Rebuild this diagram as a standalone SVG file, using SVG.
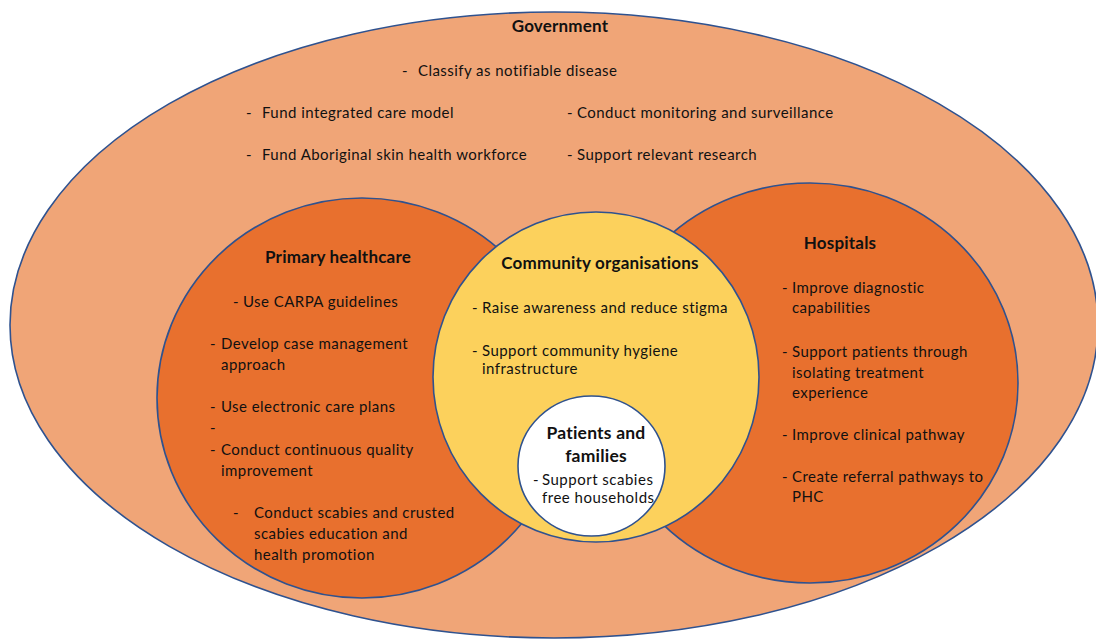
<svg xmlns="http://www.w3.org/2000/svg" width="1096" height="641" viewBox="0 0 1096 641">
<style>
.shape{stroke:#2F528F;stroke-width:1.6}
.gov{fill:#F0A577}
.orange{fill:#E8702E}
.yellow{fill:#FCD15C}
.white{fill:#FFFFFF}
text{font-family:Lato,"Liberation Sans",sans-serif;font-size:15px;letter-spacing:0.45px;fill:#111}
.t{font-weight:bold;font-size:17px;letter-spacing:0.2px;text-anchor:middle}
.pt{font-weight:bold;font-size:17.5px;letter-spacing:0.2px;text-anchor:middle}
.s{font-size:15px;letter-spacing:0.5px}
</style>
<rect width="1096" height="641" fill="#FFFFFF"/>
<g id="government">
<ellipse class="shape gov" cx="554" cy="325" rx="544" ry="313"/>
<text class="t" x="560" y="32">Government</text>
<text x="402" y="76">-</text><text x="418" y="76">Classify as notifiable disease</text>
<text x="246" y="118">-</text><text x="262" y="118">Fund integrated care model</text>
<text x="246" y="160">-</text><text x="262" y="160">Fund Aboriginal skin health workforce</text>
<text x="567" y="118">-</text><text x="577" y="118">Conduct monitoring and surveillance</text>
<text x="567" y="160">-</text><text x="577" y="160">Support relevant research</text>
</g>
<g id="primary-healthcare">
<ellipse class="shape orange" cx="362" cy="398" rx="205" ry="200"/>
<text class="t" x="338" y="263">Primary healthcare</text>
<text x="233" y="307">-</text><text x="243" y="307">Use CARPA guidelines</text>
<text x="210" y="349">-</text><text x="221" y="349">Develop case management</text>
<text x="221" y="370">approach</text>
<text x="210" y="412">-</text><text x="221" y="412">Use electronic care plans</text>
<text x="210" y="433">-</text>
<text x="210" y="455">-</text><text x="221" y="455">Conduct continuous quality</text>
<text x="221" y="476">improvement</text>
<text x="233" y="518">-</text><text x="254" y="518">Conduct scabies and crusted</text>
<text x="254" y="539">scabies education and</text>
<text x="254" y="560">health promotion</text>
</g>
<g id="hospitals">
<ellipse class="shape orange" cx="810" cy="383" rx="208" ry="200"/>
<text class="t" x="840" y="249">Hospitals</text>
<text x="782" y="293">-</text><text x="792" y="293">Improve diagnostic</text>
<text x="792" y="313">capabilities</text>
<text x="782" y="357">-</text><text x="792" y="357">Support patients through</text>
<text x="792" y="378">isolating treatment</text>
<text x="792" y="398">experience</text>
<text x="782" y="440">-</text><text x="792" y="440">Improve clinical pathway</text>
<text x="782" y="482">-</text><text x="792" y="482">Create referral pathways to</text>
<text x="792" y="502">PHC</text>
</g>
<g id="community-organisations">
<ellipse class="shape yellow" cx="596" cy="377" rx="163" ry="165"/>
<text class="t" x="600" y="269">Community organisations</text>
<text x="472" y="313">-</text><text x="482" y="313">Raise awareness and reduce stigma</text>
<text x="472" y="356">-</text><text x="482" y="356">Support community hygiene</text>
<text x="482" y="374">infrastructure</text>
</g>
<g id="patients-and-families">
<ellipse class="shape white" cx="591.5" cy="466" rx="73.5" ry="70"/>
<text class="pt" x="596" y="439">Patients and</text>
<text class="pt" x="596" y="462">families</text>
<text class="s" x="533" y="485">-</text><text class="s" x="542" y="485">Support scabies</text>
<text class="s" x="542" y="503">free households</text>
</g>
<g id="connectors"/>
</svg>
